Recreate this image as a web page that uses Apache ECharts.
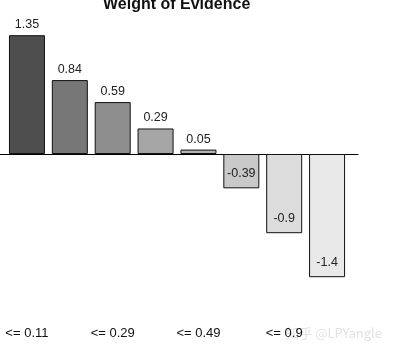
<!DOCTYPE html>
<html>
<head>
<meta charset="utf-8">
<script src="https://cdn.jsdelivr.net/npm/echarts@6/dist/echarts.min.js"></script>
<style>
  html, body { margin: 0; padding: 0; background: #fff; }
  #woeChart { width: 394px; height: 358px; }
</style>
</head>
<body>
<div id="woeChart"></div>
<script>
  // 分箱标签
  var binLabels = ['<= 0.11', '<= 0.2', '<= 0.29', '<= 0.39', '<= 0.49', '<= 0.7', '<= 0.9', '> 0.9'];
  // WOE 值
  var woeValues = [1.35, 0.84, 0.59, 0.29, 0.05, -0.39, -0.9, -1.4];
  // 柱子灰度
  var barColors = ['#4e4e4e', '#777777', '#8e8e8e', '#a6a6a6', '#b4b4b4', '#c9c9c9', '#dcdcdc', '#e9e9e9'];

  var yMin = -1.75, yMax = 1.5;

  var barData = [];
  for (var i = 0; i < woeValues.length; i++) {
    var neg = woeValues[i] < 0;
    barData.push({
      value: woeValues[i],
      itemStyle: { color: barColors[i] },
      label: {
        position: neg ? 'insideBottom' : 'top',
        distance: neg ? 8 : 4
      }
    });
  }

  var myChart = echarts.init(document.getElementById('woeChart'));
  var option = {
    animation: false,
    title: {
      text: 'Weight of Evidence',
      left: 98,
      top: -8,
      textStyle: { fontFamily: 'Liberation Sans', fontSize: 16, fontWeight: 'bold', color: '#111' }
    },
    grid: [
      { left: 5.5, width: 343, top: 22, height: 286 },
      { left: 0, width: 358, top: 22, height: 286 }
    ],
    xAxis: [{
      type: 'category',
      gridIndex: 0,
      data: binLabels,
      position: 'bottom',
      axisLine: { show: false, onZero: false },
      axisTick: { show: false },
      axisLabel: {
        interval: 1,
        margin: 19,
        fontFamily: 'Liberation Sans',
        fontSize: 13,
        color: '#111'
      }
    }, {
      type: 'category',
      gridIndex: 1,
      data: [''],
      axisLine: { show: true, onZero: true, lineStyle: { color: '#000', width: 1 } },
      axisTick: { show: false },
      axisLabel: { show: false }
    }],
    yAxis: [{
      type: 'value',
      gridIndex: 0,
      min: yMin,
      max: yMax,
      show: false
    }, {
      type: 'value',
      gridIndex: 1,
      min: yMin,
      max: yMax,
      show: false
    }],
    series: [{
      type: 'bar',
      xAxisIndex: 0,
      yAxisIndex: 0,
      barWidth: 36,
      data: barData,
      z: 3,
      itemStyle: { borderColor: '#111', borderWidth: 1 },
      label: {
        show: true,
        fontFamily: 'Liberation Sans',
        fontSize: 12.5,
        color: '#222'
      }
    }],
    graphic: [{
      type: 'text',
      right: 12,
      bottom: 18,
      style: { text: '知乎 @LPYangle', fill: '#e2e2e2', font: '13px "Noto Sans CJK SC"' }
    }]
  };
  myChart.setOption(option);
</script>
</body>
</html>
